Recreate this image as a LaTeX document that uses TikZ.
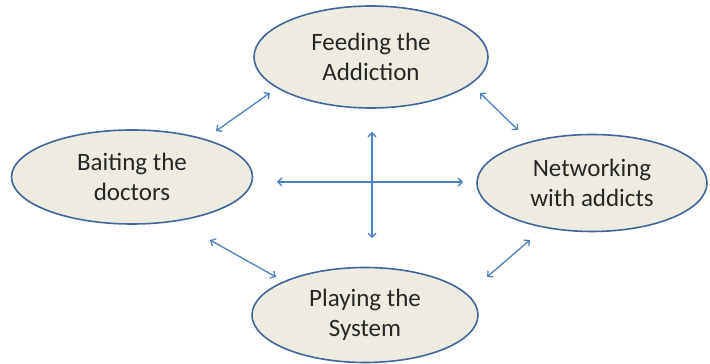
\documentclass[tikz,border=0pt]{standalone}
\usepackage{fontspec}
\setmainfont{Carlito}
\usetikzlibrary{shapes.geometric,arrows.meta}
\definecolor{efill}{HTML}{EEECE1}
\definecolor{edraw}{HTML}{41669A}
\definecolor{arr}{HTML}{4F81BD}
\tikzset{
  oval/.style={ellipse, draw=edraw, line width=1.6pt, fill=efill, inner sep=0pt,
    align=center, font=\fontsize{25}{30}\selectfont, text=black!85},
  link/.style={draw=arr, line width=1.3pt, {Straight Barb[length=4pt,width=8pt]}-{Straight Barb[length=4pt,width=8pt]}}
}
\begin{document}
\begin{tikzpicture}[x=1pt,y=1pt]
\useasboundingbox (0,0) rectangle (710,364);
\node[oval, minimum width=234pt, minimum height=102pt] (feed) at (371,307) {Feeding the\\Addiction};
\node[oval, minimum width=241pt, minimum height=94pt] (bait) at (132,187) {Baiting the\\doctors};
\node[oval, minimum width=230pt, minimum height=97pt] (net) at (592,181) {Networking\\with addicts};
\node[oval, minimum width=226pt, minimum height=95pt] (play) at (365,49) {Playing the\\System};
\coordinate (h1) at (277,182);
\coordinate (h2) at (463,182);
\coordinate (v1) at (372,232);
\coordinate (v2) at (372,126);
\coordinate (tl1) at (216,233);
\coordinate (tl2) at (270,271);
\coordinate (tr1) at (480,271);
\coordinate (tr2) at (518,234);
\coordinate (bl1) at (210,124);
\coordinate (bl2) at (276,87);
\coordinate (br1) at (530,124);
\coordinate (br2) at (487,87);
\draw[link] (h1) -- (h2);
\draw[link] (v1) -- (v2);
\draw[link] (tl1) -- (tl2);
\draw[link] (tr1) -- (tr2);
\draw[link] (bl1) -- (bl2);
\draw[link] (br1) -- (br2);
\end{tikzpicture}
\end{document}
